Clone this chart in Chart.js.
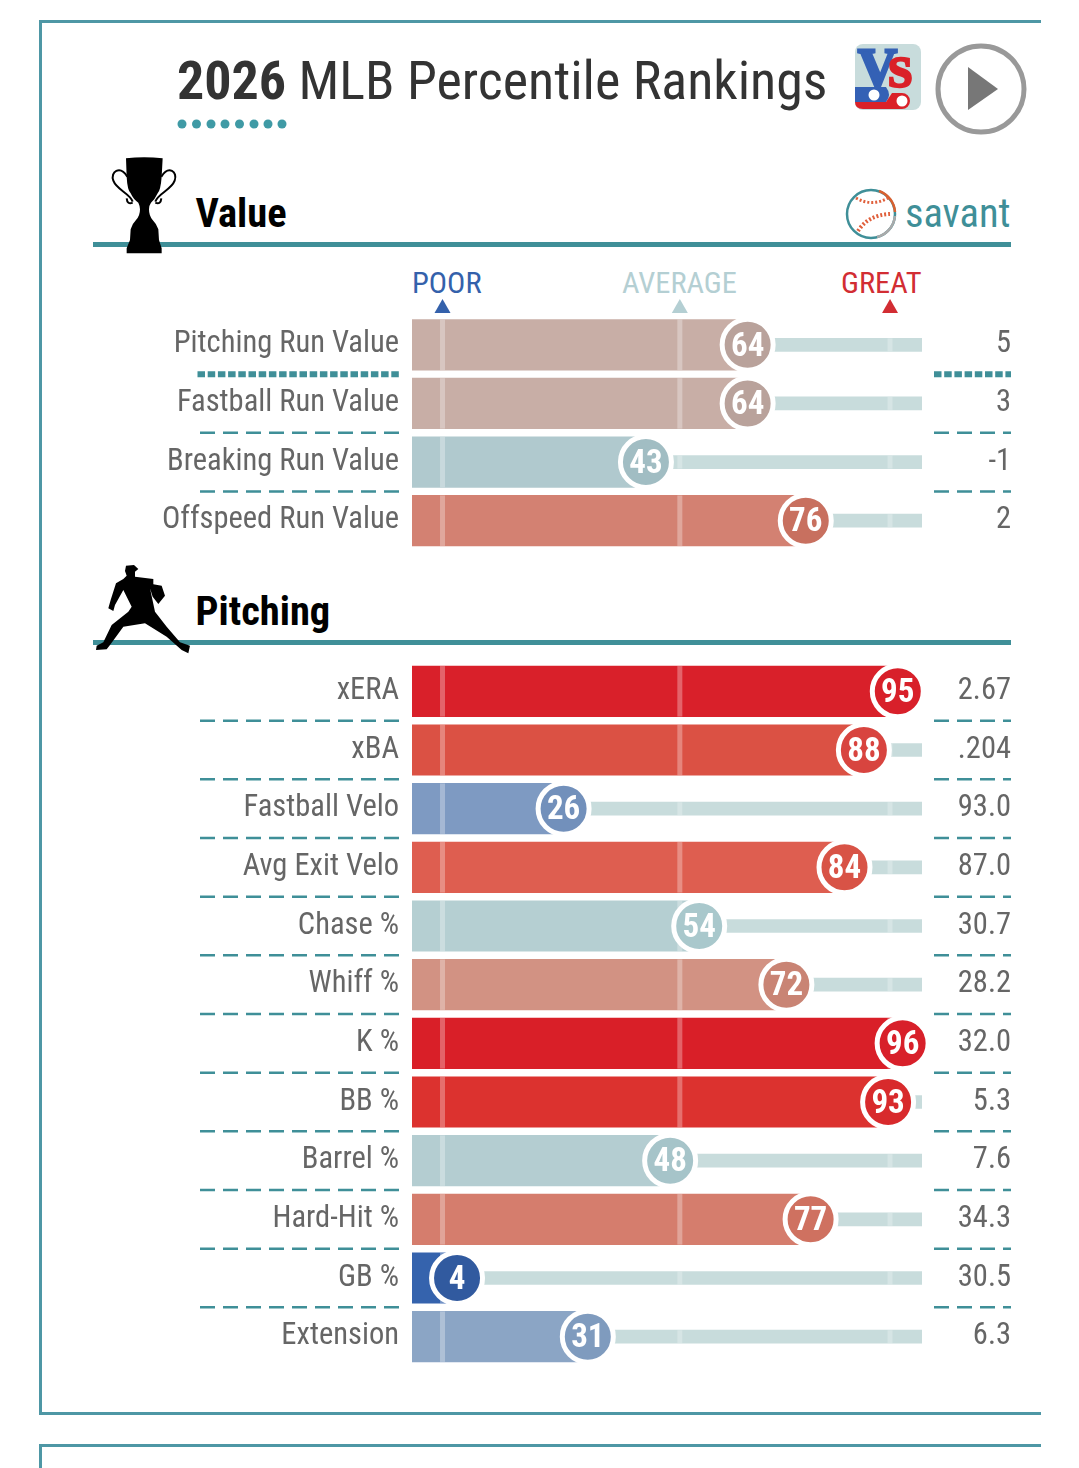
<!DOCTYPE html>
<html>
<head>
<meta charset="utf-8">
<script src="https://cdn.jsdelivr.net/npm/chart.js@4/dist/chart.umd.min.js"></script>
<style>
    html, body { margin: 0; padding: 0; background: #fff; }
    #page { position: relative; width: 1079px; height: 1468px; overflow: hidden; font-family: Roboto, sans-serif; font-stretch: condensed; }
    #page div, #page canvas, #page svg { position: absolute; }
    .txt { white-space: nowrap; line-height: 1; }
    .frame { background: #4e97a5; }
    .rule { background: #3f8f98; left: 93px; width: 918px; height: 5px; }
    .head { left: 195.5px; font-size: 40.5px; font-weight: 700; color: #000; }
    .scale { font-size: 30.4px; top: 268px; }
</style>
</head>
<body>
<div id="page">
    <div class="frame" style="left:39px;top:20px;width:1002px;height:3px"></div>
    <div class="frame" style="left:39px;top:20px;width:3px;height:1395px"></div>
    <div class="frame" style="left:39px;top:1412px;width:1002px;height:3px"></div>
    <div class="frame" style="left:39px;top:1444px;width:1002px;height:3px"></div>
    <div class="frame" style="left:39px;top:1444px;width:3px;height:24px"></div>

    <div class="txt" style="left:177px;top:54px;font-size:54px;color:#333"><b>2026</b> MLB Percentile Rankings</div>
    <div class="rule" style="top:242px"></div>
    <div class="rule" style="top:640px"></div>
    <div class="txt head" style="top:193px">Value</div>
    <div class="txt head" style="top:591px">Pitching</div>
    <div class="txt" style="left:905px;top:193px;font-size:40.5px;color:#3f8f98">savant</div>
    <div class="txt scale" style="left:412px;color:#3461ab">POOR</div>
    <div class="txt scale" style="left:622px;color:#b4cfd3">AVERAGE</div>
    <div class="txt scale" style="left:841px;color:#d22d33">GREAT</div>

    <canvas id="value-chart" style="left:0;top:295px"></canvas>
    <canvas id="pitching-chart" style="left:0;top:662px"></canvas>

    <svg width="1079" height="1468" style="left:0;top:0;pointer-events:none">
        <!-- dots under the title -->
        <g fill="#3f9aa5">
            <circle cx="182" cy="124" r="4.5"/><circle cx="196.5" cy="124" r="4.5"/><circle cx="211" cy="124" r="4.5"/><circle cx="225" cy="124" r="4.5"/>
            <circle cx="239.5" cy="124" r="4.5"/><circle cx="254" cy="124" r="4.5"/><circle cx="268" cy="124" r="4.5"/><circle cx="282" cy="124" r="4.5"/>
        </g>
        <!-- trophy -->
        <g transform="translate(90 140) scale(.3333)">
            <path d="M108 55 Q162 48 218 55 L215 110 Q212 150 203 160 Q195 178 183 188 Q176 198 177 208 Q177 228 188 240 Q200 252 205 268 L207 300 L215 325 L215 340 L110 340 L110 325 L120 300 L122 268 Q126 252 138 240 Q150 228 150 208 Q150 198 145 188 Q130 178 122 160 Q112 150 110 110 Z"/>
            <path d="M112 110 C90 75 60 95 70 122 C80 150 120 160 128 185 M110 175 Q112 195 128 188" fill="none" stroke="#000" stroke-width="6"/>
            <path d="M214 110 C236 75 264 95 254 122 C244 150 204 160 196 185 M214 175 Q212 195 196 188" fill="none" stroke="#000" stroke-width="6"/>
        </g>
        <!-- pitcher -->
        <g transform="translate(90 555) scale(.3333)">
            <path d="M108 32 L132 30 L145 42 L135 50 L135 65 L190 72 L190 88 L215 92 L225 122 L205 147 L188 125 L180 100 L195 170 L230 215 L270 262 L300 272 L295 295 L275 285 L230 245 L165 205 L100 215 L60 270 L50 283 L18 285 L20 272 L40 262 L65 210 L115 170 L125 155 L100 105 L75 150 L70 168 L55 160 L62 135 L78 85 L100 72 L110 62 L105 48 Z"/>
        </g>
        <!-- versus logo -->
        <rect x="855" y="44" width="66" height="66" rx="8" fill="#c8dcdc"/>
        <text x="858" y="86" font-family="Liberation Serif" font-weight="700" font-size="54" fill="#3461b5" stroke="#3461b5" stroke-width="3">V</text>
        <text x="888" y="87" font-family="Liberation Serif" font-weight="700" font-size="44" fill="#da2128" stroke="#da2128" stroke-width="2.5">S</text>
        <path d="M855 87 H886 Q892 95 886 102 H855 Z" fill="#3461b5"/>
        <path d="M855 102 H886 L892 93 H902 A8 8 0 0 1 910 101 A8 8 0 0 1 902 109 H863 Q855 109 855 102 Z" fill="#da2128"/>
        <circle cx="874" cy="95" r="5.5" fill="#fff"/>
        <circle cx="902" cy="101" r="5.5" fill="#fff"/>
        <!-- play button -->
        <circle cx="981" cy="89" r="43" fill="none" stroke="#999" stroke-width="5"/>
        <path d="M968 67 L998 89 L968 110 Z" fill="#777"/>
        <!-- savant ball -->
        <circle cx="871" cy="214" r="24" fill="none" stroke="#3f8f98" stroke-width="2.5"/>
        <path d="M879 191 A24 24 0 0 1 895 212" fill="none" stroke="#d9602f" stroke-width="2.5"/>
        <path d="M895 216 A24 24 0 0 1 877 237" fill="none" stroke="#aaa" stroke-width="2.5"/>
        <path d="M856 198 Q872 207 888 198" fill="none" stroke="#e0603c" stroke-width="3" stroke-dasharray="2 2"/>
        <path d="M858 231 Q868 215 890 214" fill="none" stroke="#e0603c" stroke-width="4" stroke-dasharray="2 2"/>
    </svg>
</div>
<script>
const valueLabels = ['Pitching Run Value', 'Fastball Run Value', 'Breaking Run Value', 'Offspeed Run Value'];
const valueRanks = [64, 64, 43, 76];
const valueStats = ['5', '3', '-1', '2'];
const valueBarColors = ['#c8aea6', '#c8aea6', '#b0c9ce', '#d38172'];
const valueDotColors = ['#b9a29b', '#b9a29b', '#a1bdc3', '#c8705f'];

const pitchingLabels = ['xERA', 'xBA', 'Fastball Velo', 'Avg Exit Velo', 'Chase %', 'Whiff %', 'K %', 'BB %', 'Barrel %', 'Hard-Hit %', 'GB %', 'Extension'];
const pitchingRanks = [95, 88, 26, 84, 54, 72, 96, 93, 48, 77, 4, 31];
const pitchingStats = ['2.67', '.204', '93.0', '87.0', '30.7', '28.2', '32.0', '5.3', '7.6', '34.3', '30.5', '6.3'];
const pitchingBarColors = ['#d9202a', '#db5144', '#7e9ac2', '#de5e50', '#b5cfd2', '#d29283', '#d91f28', '#dc322f', '#b4cdd1', '#d57d6d', '#3563ad', '#8ba5c5'];
const pitchingDotColors = ['#d8202a', '#d8443f', '#7290bb', '#d85346', '#a9c8cc', '#c98474', '#d8202a', '#d82a2c', '#a6c4c9', '#cf7160', '#315a9f', '#7f9bbe'];

// ticks on the percentile scale
const scaleMarks = [1, 50, 93.4];
const markColors = ['#3461ab', '#b4cfd3', '#d22d33'];
const scaleMin = -5.3;
const scaleMax = 100;

const teal = '#3f8f98';

function dashes(ctx, y, x1, x2, pattern, width) {
    ctx.save();
    ctx.strokeStyle = teal;
    ctx.lineWidth = width;
    ctx.setLineDash(pattern);
    ctx.beginPath();
    ctx.moveTo(x1, y);
    ctx.lineTo(x2, y);
    ctx.stroke();
    ctx.restore();
}

// dashed row separators, drawn under everything
const separators = {
    id: 'separators',
    beforeDatasetsDraw(chart, args, opts) {
        const y = chart.scales.y;
        for (let i = 0; i < y.ticks.length - 1; i++) {
            const mid = (y.getPixelForTick(i) + y.getPixelForTick(i + 1)) / 2;
            if (opts.dottedFirst && i === 0) {
                dashes(chart.ctx, mid, 197.5, 399, [7.5, 2.7], 6);
                dashes(chart.ctx, mid, 934, 1011, [7.5, 2.7], 6);
            } else {
                dashes(chart.ctx, mid, 200, 399, [15, 8], 2.5);
                dashes(chart.ctx, mid, 934, 1011, [15, 8], 2.5);
            }
        }
    }
};

// pale ticks across the bars and tracks, after the bars but under the dots
const markLines = {
    id: 'markLines',
    afterDatasetDraw(chart, args) {
        if (args.index !== 1) return;
        const ctx = chart.ctx;
        const x = chart.scales.x;
        args.meta.data.forEach((bar, i) => {
            const rank = chart.data.datasets[1].data[i];
            scaleMarks.forEach(mark => {
                const h = mark <= rank ? 50.5 : 13;
                ctx.fillStyle = 'rgba(255,255,255,' + (mark <= rank ? 0.3 : 0.25) + ')';
                ctx.fillRect(x.getPixelForValue(mark) - 2.5, bar.y - h / 2, 5, h);
            });
        });
    }
};

// rank number inside each dot
const dotText = {
    id: 'dotText',
    afterDatasetsDraw(chart) {
        const ctx = chart.ctx;
        ctx.save();
        ctx.font = 'condensed bold 33px Roboto';
        ctx.fillStyle = '#fff';
        ctx.textAlign = 'center';
        ctx.textBaseline = 'middle';
        chart.getDatasetMeta(0).data.forEach((pt, i) => {
            ctx.fillText(chart.data.datasets[0].data[i].x, pt.x, pt.y + 2.5);
        });
        ctx.restore();
    }
};

// POOR / AVERAGE / GREAT pointers
const pointers = {
    id: 'pointers',
    afterDraw(chart, args, opts) {
        if (!opts.show) return;
        const ctx = chart.ctx;
        const x = chart.scales.x;
        scaleMarks.forEach((mark, i) => {
            const px = x.getPixelForValue(mark);
            ctx.fillStyle = markColors[i];
            ctx.beginPath();
            ctx.moveTo(px, 4);
            ctx.lineTo(px + 8, 18);
            ctx.lineTo(px - 8, 18);
            ctx.fill();
        });
    }
};

// tick padding must not eat into the row area
function fitAxis(width) {
    return scale => {
        scale.width = width;
        scale.paddingTop = 0;
        scale.paddingBottom = 0;
    };
}

function makeChart(id, labels, ranks, stats, barColors, dotColors, height, padTop, isValue) {
    const canvas = document.getElementById(id);
    canvas.width = 1079;
    canvas.height = height;
    return new Chart(canvas, {
        type: 'bar',
        data: {
            labels: labels,
            datasets: [
                {
                    type: 'scatter',
                    order: 0,
                    data: ranks.map((r, i) => ({ x: r, y: labels[i] })),
                    pointRadius: 25.5,
                    pointHoverRadius: 25.5,
                    pointBackgroundColor: dotColors,
                    pointBorderColor: '#fff',
                    pointBorderWidth: 5,
                    clip: false
                },
                {
                    order: 1,
                    data: ranks,
                    base: scaleMin,
                    grouped: false,
                    backgroundColor: barColors,
                    barThickness: 50.5
                },
                {
                    order: 2,
                    data: ranks.map(r => [r, scaleMax]),
                    grouped: false,
                    backgroundColor: '#c8dcdc',
                    barThickness: 13
                }
            ]
        },
        options: {
            indexAxis: 'y',
            responsive: false,
            animation: false,
            layout: { autoPadding: false, padding: { top: padTop, right: 68, bottom: 0 } },
            scales: {
                x: { type: 'linear', min: scaleMin, max: scaleMax, display: false },
                y: {
                    type: 'category',
                    position: 'left',
                    grid: { display: false, drawTicks: false },
                    border: { display: false },
                    afterFit: fitAxis(412),
                    ticks: {
                        padding: 13,
                        crossAlign: 'near',
                        autoSkip: false,
                        color: '#666',
                        font: { family: 'Roboto', weight: 'condensed', size: 30.5 }
                    }
                },
                stat: {
                    type: 'category',
                    position: 'right',
                    labels: stats,
                    offset: true,
                    grid: { display: false, drawTicks: false },
                    border: { display: false },
                    afterFit: fitAxis(89),
                    ticks: {
                        crossAlign: 'far',
                        autoSkip: false,
                        color: '#666',
                        font: { family: 'Roboto', weight: 'condensed', size: 30.5 }
                    }
                }
            },
            plugins: {
                legend: { display: false },
                tooltip: { enabled: false },
                separators: { dottedFirst: isValue },
                pointers: { show: isValue }
            }
        },
        plugins: [separators, markLines, dotText, pointers]
    });
}

document.fonts.load('31px Roboto').finally(() => {
    makeChart('value-chart', valueLabels, valueRanks, valueStats, valueBarColors, valueDotColors, 255, 20.5, true);
    makeChart('pitching-chart', pitchingLabels, pitchingRanks, pitchingStats, pitchingBarColors, pitchingDotColors, 704, 0, false);
});
</script>
</body>
</html>
